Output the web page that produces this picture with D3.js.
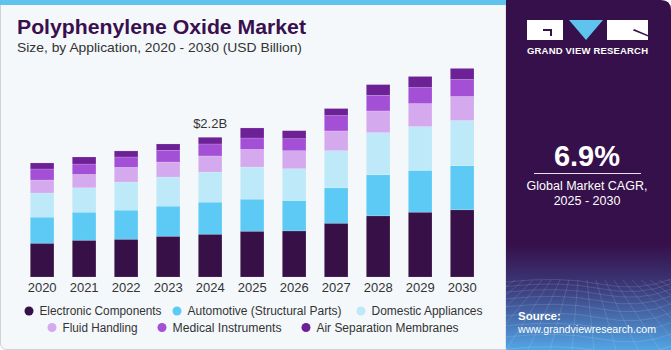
<!DOCTYPE html>
<html>
<head>
<meta charset="utf-8">
<script src="https://cdn.jsdelivr.net/npm/d3@7"></script>
<style>
  body { margin: 0; background: #ffffff; }
  svg text { font-family: "Liberation Sans", Arial, sans-serif; }
</style>
</head>
<body>
<div id="chart"></div>
<script>
// data (USD billion)
const years = ["2020", "2021", "2022", "2023", "2024", "2025", "2026", "2027", "2028", "2029", "2030"];
const segments = ["Electronic Components", "Automotive (Structural Parts)", "Domestic Appliances",
  "Fluid Handling", "Medical Instruments", "Air Separation Membranes"];
const electronic = [0.532, 0.579, 0.595, 0.642, 0.674, 0.721, 0.726, 0.847, 0.963, 1.021, 1.058];
const automotive = [0.411, 0.442, 0.458, 0.474, 0.505, 0.505, 0.479, 0.558, 0.647, 0.658, 0.695];
const domestic   = [0.379, 0.384, 0.442, 0.458, 0.474, 0.505, 0.500, 0.584, 0.663, 0.689, 0.711];
const fluid      = [0.205, 0.211, 0.232, 0.237, 0.253, 0.279, 0.284, 0.311, 0.342, 0.363, 0.379];
const medical    = [0.174, 0.163, 0.163, 0.184, 0.189, 0.179, 0.189, 0.242, 0.247, 0.253, 0.268];
const airSep     = [0.095, 0.111, 0.095, 0.100, 0.105, 0.158, 0.126, 0.111, 0.168, 0.174, 0.174];
const colors = ["#371047", "#5dcaf5", "#bde9f9", "#d5a9ee", "#a450d6", "#6d2196"];
const callout = { year: "2024", text: "$2.2B" };
const cagr = "6.9%";

const W = 671, H = 350;
const svg = d3.select("#chart").append("svg")
  .attr("width", W).attr("height", H);

// ---- left card
const card = svg.append("g");
card.append("path")
  .attr("d", "M0.5,0.5 H506 V349.5 H7 Q0.5,349.5 0.5,343 Z")
  .attr("fill", "#f4f8fb")
  .attr("stroke", "#cfd3d6");
card.append("rect").attr("x", 0).attr("y", 0).attr("width", 506).attr("height", 5)
  .attr("fill", "#5ec4ee");

card.append("text")
  .attr("x", 17).attr("y", 34)
  .attr("font-size", 20).attr("font-weight", "bold")
  .attr("fill", "#3a0f4f")
  .attr("textLength", 289).attr("lengthAdjust", "spacingAndGlyphs")
  .text("Polyphenylene Oxide Market");
card.append("text")
  .attr("x", 17).attr("y", 52)
  .attr("font-size", 13).attr("fill", "#333")
  .attr("textLength", 285).attr("lengthAdjust", "spacingAndGlyphs")
  .text("Size, by Application, 2020 - 2030 (USD Billion)");

// ---- bars
const table = years.map((y, i) => ({
  year: y,
  "Electronic Components": electronic[i],
  "Automotive (Structural Parts)": automotive[i],
  "Domestic Appliances": domestic[i],
  "Fluid Handling": fluid[i],
  "Medical Instruments": medical[i],
  "Air Separation Membranes": airSep[i]
}));
const stack = d3.stack().keys(segments)(table);

const x = d3.scaleBand().domain(years).range([30.3, 474]).paddingInner(0.437).paddingOuter(0);
const y = d3.scaleLinear().domain([0, 3.5]).range([277, 277 - 3.5 * 63.5]);
const color = d3.scaleOrdinal().domain(segments).range(colors);

const plot = svg.append("g");
plot.selectAll(".layer")
  .data(stack)
  .enter().append("g")
  .attr("class", "layer")
  .attr("fill", d => color(d.key))
  .selectAll("rect")
  .data(d => d)
  .enter().append("rect")
  .attr("x", d => x(d.data.year))
  .attr("width", x.bandwidth())
  .attr("y", d => y(d[1]))
  .attr("height", d => y(d[0]) - y(d[1]))
  .attr("stroke", "#ffffff")
  .attr("stroke-opacity", 0.25)
  .attr("stroke-width", 0.6);

const xAxis = d3.axisBottom(x).tickSize(0).tickPadding(6);
const xg = plot.append("g").attr("transform", "translate(0,277)").call(xAxis);
xg.select(".domain").remove();
xg.selectAll("text").attr("font-size", 13).attr("fill", "#333")
  .attr("font-family", "Liberation Sans, Arial, sans-serif");

const top24 = stack[stack.length - 1][years.indexOf(callout.year)][1];
plot.append("text")
  .attr("x", x(callout.year) + x.bandwidth() / 2)
  .attr("y", y(top24) - 9)
  .attr("text-anchor", "middle")
  .attr("font-size", 13).attr("fill", "#333")
  .text(callout.text);

// ---- legend (swatch x, text width in px)
const legendRows = [
  [{ k: 0, cx: 29, w: 122 }, { k: 1, cx: 177, w: 154 }, { k: 2, cx: 361, w: 111 }],
  [{ k: 3, cx: 52, w: 75 }, { k: 4, cx: 162, w: 109 }, { k: 5, cx: 306, w: 142 }]
];
const legend = svg.append("g");
legendRows.forEach((row, r) => {
  const cy = 311 + r * 16.5;
  row.forEach(item => {
    legend.append("circle").attr("cx", item.cx).attr("cy", cy).attr("r", 4.5)
      .attr("fill", colors[item.k]);
    legend.append("text").attr("x", item.cx + 10.5).attr("y", cy + 4.3)
      .attr("font-size", 12.5).attr("fill", "#333")
      .attr("textLength", item.w).attr("lengthAdjust", "spacingAndGlyphs")
      .text(segments[item.k]);
  });
});

// ---- right panel
const panel = svg.append("g");
const defs = svg.append("defs");
const grad = defs.append("linearGradient").attr("id", "pgrad")
  .attr("x1", 0).attr("y1", 0).attr("x2", 0).attr("y2", 1);
grad.append("stop").attr("offset", "0%").attr("stop-color", "#36104a");
grad.append("stop").attr("offset", "70%").attr("stop-color", "#36104a");
grad.append("stop").attr("offset", "82%").attr("stop-color", "#3b3a7a");
grad.append("stop").attr("offset", "100%").attr("stop-color", "#52a6e6");
defs.append("clipPath").attr("id", "pclip").append("path")
  .attr("d", "M506,0 H661 Q671,0 671,10 V350 H506 Z");

panel.append("path")
  .attr("d", "M506,0 H661 Q671,0 671,10 V350 H506 Z")
  .attr("fill", "url(#pgrad)");

// perspective grid decoration
const grid = panel.append("g").attr("clip-path", "url(#pclip)")
  .attr("stroke", "#ffffff").attr("stroke-opacity", 0.18).attr("fill", "none")
  .attr("stroke-width", 0.7);
for (let i = 0; i < 12; i++) {
  const yy = 282 + i * i * 0.55 + i * 4;
  grid.append("path").attr("d", `M506,${yy} Q560,${yy - 6} 600,${yy + 2} T671,${yy - 3}`);
}
for (let i = -10; i < 20; i++) {
  const xt = 506 + i * 9;
  grid.append("path").attr("d", `M${xt},280 L${506 + (i - 5) * 22},350`);
}

// logo
const logo = panel.append("g");
logo.append("rect").attr("x", 527).attr("y", 20).attr("width", 36).attr("height", 20).attr("fill", "#fff");
logo.append("path").attr("d", "M543,31 H550 V36 H552 V29 H543 Z").attr("fill", "#36104a");
logo.append("path").attr("d", "M569,20 H603 L586,40 Z").attr("fill", "#5ec4ee");
logo.append("rect").attr("x", 607).attr("y", 20).attr("width", 41).attr("height", 20).attr("fill", "#fff");
logo.append("path").attr("d", "M634,29 L648,35 V36.5 L633,30.5 Z").attr("fill", "#36104a");
logo.append("text").attr("x", 587.5).attr("y", 54).attr("text-anchor", "middle")
  .attr("font-size", 9.5).attr("font-weight", "bold").attr("fill", "#fff")
  .attr("textLength", 121).attr("lengthAdjust", "spacing")
  .text("GRAND VIEW RESEARCH");

panel.append("text").attr("x", 587).attr("y", 166).attr("text-anchor", "middle")
  .attr("font-size", 29).attr("font-weight", "bold").attr("fill", "#fff")
  .text(cagr);
panel.append("line").attr("x1", 534).attr("x2", 641).attr("y1", 173.5).attr("y2", 173.5)
  .attr("stroke", "#e8e0ee").attr("stroke-width", 1);
panel.append("text").attr("x", 587).attr("y", 190).attr("text-anchor", "middle")
  .attr("font-size", 12.5).attr("fill", "#fff")
  .text("Global Market CAGR,");
panel.append("text").attr("x", 587).attr("y", 205).attr("text-anchor", "middle")
  .attr("font-size", 12.5).attr("fill", "#fff")
  .text("2025 - 2030");

panel.append("text").attr("x", 518).attr("y", 320)
  .attr("font-size", 11.5).attr("font-weight", "bold").attr("fill", "#fff")
  .text("Source:");
panel.append("text").attr("x", 518).attr("y", 333)
  .attr("font-size", 11.5).attr("fill", "#fff")
  .attr("textLength", 138).attr("lengthAdjust", "spacingAndGlyphs")
  .text("www.grandviewresearch.com");
</script>
</body>
</html>
